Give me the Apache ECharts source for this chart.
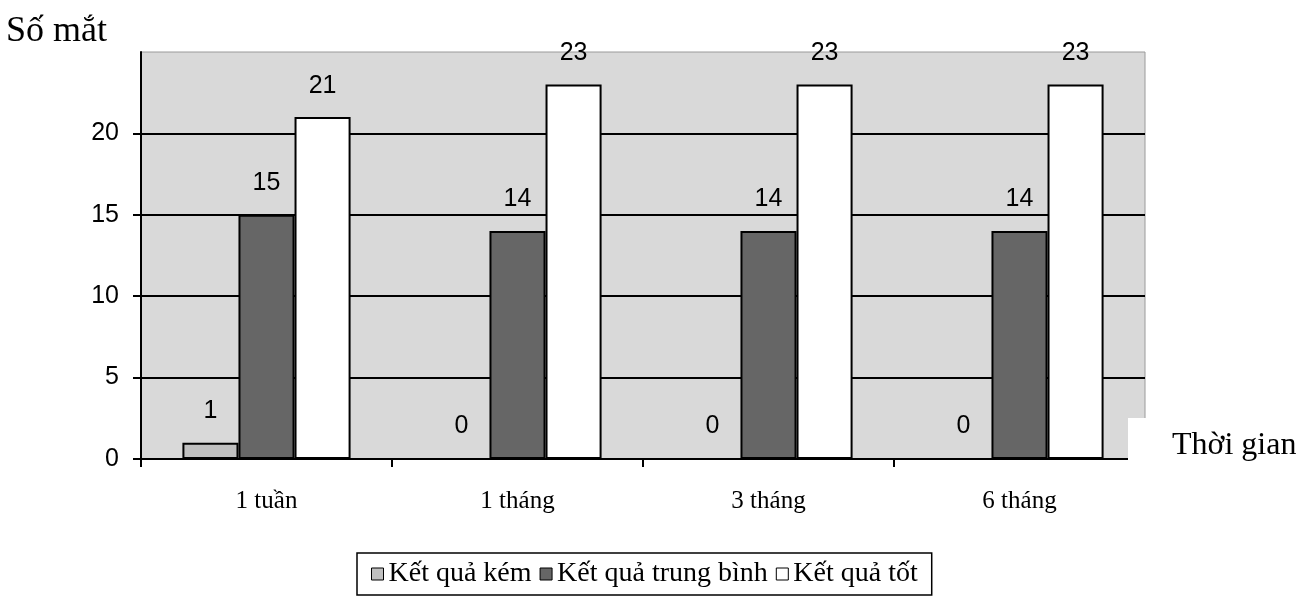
<!DOCTYPE html>
<html>
<head>
<meta charset="utf-8">
<script src="https://cdn.jsdelivr.net/npm/echarts@6/dist/echarts.min.js"></script>
<style>
  html, body { margin: 0; padding: 0; background: #ffffff; }
  #chart { width: 1313px; height: 600px; }
</style>
</head>
<body>
<div id="chart"></div>
<script>
// Follow-up periods and number of eyes per outcome group
const categories = ['1 tuần', '1 tháng', '3 tháng', '6 tháng'];
const seriesNames = ['Kết quả kém', 'Kết quả trung bình', 'Kết quả tốt'];
const ketQuaKem = [1, 0, 0, 0];
const ketQuaTrungBinh = [15, 14, 14, 14];
const ketQuaTot = [21, 23, 23, 23];
const yAxisMax = 25;
const yAxisStep = 5;

const seriesValues = [ketQuaKem, ketQuaTrungBinh, ketQuaTot];
const seriesColors = ['#c0c0c0', '#666666', '#ffffff'];

const numberFont = '"Liberation Sans", sans-serif';
const serifFont = '"Liberation Serif", serif';

const chart = echarts.init(document.getElementById('chart'), null, { renderer: 'canvas' });

const valueLabel = {
  show: true,
  position: 'top',
  distance: 19,
  color: '#000',
  fontFamily: numberFont,
  fontSize: 25
};

chart.setOption({
  animation: false,
  backgroundColor: '#ffffff',
  title: [
    {
      // y-axis caption, top left
      text: 'Số mắt',
      left: 6,
      top: 14,
      padding: 0,
      textStyle: {
        fontFamily: serifFont,
        fontWeight: 'normal',
        fontSize: 36,
        color: '#000'
      }
    },
    {
      // x-axis caption on a white panel that cuts into the plot corner
      text: 'Thời gian',
      left: 1128,
      top: 418,
      padding: [12, 14, 22, 44],
      backgroundColor: '#ffffff',
      textStyle: {
        fontFamily: serifFont,
        fontWeight: 'normal',
        fontSize: 32,
        lineHeight: 32,
        color: '#000'
      }
    }
  ],
  grid: {
    left: 141,
    right: 168,
    top: 52,
    bottom: 141,
    containLabel: false,
    outerBoundsMode: 'none',
    show: true,
    backgroundColor: '#d9d9d9',
    borderColor: '#9a9a9a',
    borderWidth: 1
  },
  legend: {
    data: seriesNames,
    left: 357,
    bottom: 5,
    orient: 'horizontal',
    icon: 'rect',
    itemWidth: 12,
    itemHeight: 12,
    itemGap: 8,
    padding: [7, 14, 7, 14],
    borderColor: '#000',
    borderWidth: 1.5,
    borderRadius: 0,
    itemStyle: { borderColor: '#000', borderWidth: 1 },
    textStyle: {
      fontFamily: serifFont,
      fontSize: 28,
      color: '#000'
    }
  },
  xAxis: {
    type: 'category',
    data: categories,
    boundaryGap: true,
    axisLine: { show: true, lineStyle: { color: '#000', width: 2 } },
    axisTick: { show: true, alignWithLabel: false, length: 8, lineStyle: { color: '#000', width: 2 } },
    axisLabel: {
      margin: 30,
      color: '#000',
      fontFamily: serifFont,
      fontSize: 25
    },
    splitLine: { show: false }
  },
  yAxis: {
    type: 'value',
    min: 0,
    max: yAxisMax,
    interval: yAxisStep,
    axisLine: { show: true, lineStyle: { color: '#000', width: 2 } },
    axisTick: { show: true, length: 8, lineStyle: { color: '#000', width: 2 } },
    axisLabel: {
      margin: 22,
      showMaxLabel: false,
      color: '#000',
      fontFamily: numberFont,
      fontSize: 25
    },
    splitLine: {
      show: true,
      showMinLine: false,
      showMaxLine: false,
      lineStyle: { color: '#000', width: 2 }
    }
  },
  series: seriesNames.map((name, i) => ({
    name: name,
    type: 'bar',
    data: seriesValues[i],
    barGap: '0%',
    barCategoryGap: '33%',
    itemStyle: {
      color: seriesColors[i],
      borderColor: '#000',
      borderWidth: 2
    },
    label: valueLabel
  }))
});
</script>
</body>
</html>
